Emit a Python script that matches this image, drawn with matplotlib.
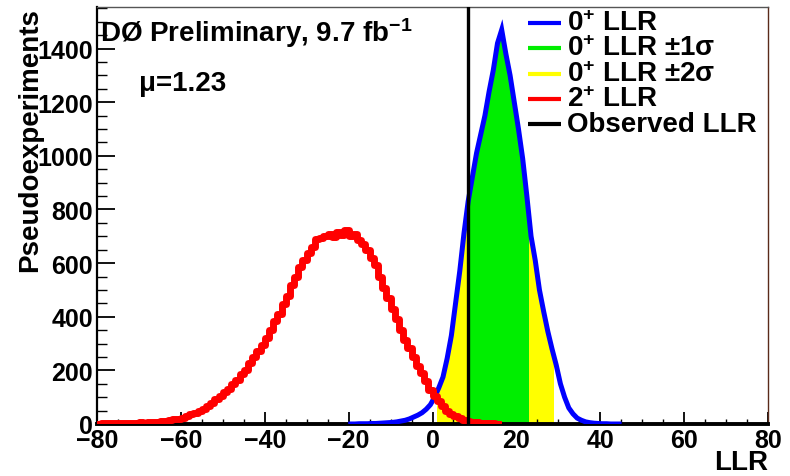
import numpy as np
import matplotlib
matplotlib.use('Agg')
import matplotlib.pyplot as plt

plt.rcParams['font.family'] = ['Liberation Sans', 'DejaVu Sans']
plt.rcParams['font.weight'] = 'bold'
plt.rcParams['mathtext.fontset'] = 'custom'
plt.rcParams['mathtext.rm'] = 'Liberation Sans:bold'
plt.rcParams['mathtext.bf'] = 'Liberation Sans:bold'
plt.rcParams['mathtext.it'] = 'Liberation Sans:bold:italic'

# 0+ LLR pseudoexperiments, 1-unit bins starting at -20
blue_edges = np.arange(-20, 46)
blue = [0, 0, 1, 1, 1, 2, 2, 3, 4, 5,
        6, 8, 11, 14, 19, 26, 33, 42, 55, 72,
        100, 135, 175, 245, 330, 450, 570, 710, 830, 920,
        1010, 1080, 1150, 1240, 1320, 1420, 1470, 1380, 1300, 1200,
        1100, 990, 850, 700, 610, 500, 420, 345, 280, 220,
        150, 100, 60, 38, 22, 14, 8, 5, 3, 2,
        1, 1, 0, 0, 0]

# 2+ LLR pseudoexperiments, 1-unit bins starting at -80
red_edges = np.arange(-80, 17)
red = [1, 2, 2, 3, 2, 3, 4, 3, 5, 4,
       6, 5, 7, 8, 9, 10, 12, 14, 17, 20,
       24, 29, 36, 41, 50, 57, 68, 80, 92, 104,
       120, 132, 148, 165, 186, 202, 228, 248, 272, 296,
       322, 350, 385, 410, 448, 478, 520, 548, 585, 610,
       638, 660, 690, 695, 702, 710, 698, 716, 705, 722,
       700, 710, 688, 670, 648, 620, 592, 548, 508, 470,
       428, 390, 350, 315, 282, 250, 218, 190, 160, 128,
       104, 84, 66, 50, 37, 28, 21, 15, 11, 8,
       6, 4, 3, 2, 2, 1]

observed = 8.5
band_1sigma = (9, 23)
band_2sigma = (1, 29)

legend_labels = ['0$^{+}$ LLR', '0$^{+}$ LLR ±1σ', '0$^{+}$ LLR ±2σ',
                 '2$^{+}$ LLR', 'Observed LLR']
legend_colors = ['#0000ff', '#00ee00', '#ffff00', '#ff0000', 'black']

blue = np.array(blue)
red = np.array(red)
blue_x = (blue_edges[:-1] + blue_edges[1:]) / 2
red_x = (red_edges[:-1] + red_edges[1:]) / 2

fig = plt.figure(figsize=(7.9, 4.77), dpi=100)
ax = fig.add_axes([97/790, 1-425/477, 671/790, 417/477])

i0, i1 = np.searchsorted(blue_edges, band_2sigma)
ax.stairs(blue[i0:i1], blue_edges[i0:i1+1], fill=True, color='#ffff00', zorder=1)
i0, i1 = np.searchsorted(blue_edges, band_1sigma)
ax.stairs(blue[i0:i1], blue_edges[i0:i1+1], fill=True, color='#00ee00', zorder=2)
ax.plot(blue_x, blue, color='#0000ff', linewidth=3.6, solid_joinstyle='miter', zorder=3)
ax.plot(red_x, red, color='#ff0000', linewidth=5, drawstyle='steps-mid', zorder=4)
ax.plot([-80, red_x[0]], [0, 0], color='#ff0000', linewidth=3, zorder=4)
ax.axvline(observed, color='black', linewidth=2.4, zorder=5)

ax.set_xlim(-80, 80)
ax.set_ylim(0, 1555)
ax.set_xticks(np.arange(-80, 81, 20))
ax.set_xticks(np.arange(-80, 81, 5), minor=True)
ax.set_yticks(np.arange(0, 1401, 200))
ax.set_yticks(np.arange(0, 1551, 50), minor=True)
ax.tick_params(axis='x', which='major', direction='in', length=8.6, width=1.3, labelsize=18, pad=3)
ax.tick_params(axis='x', which='minor', direction='in', length=3.6, width=1.0)
ax.tick_params(axis='y', which='major', direction='in', length=13, width=1.3, labelsize=18, pad=3)
ax.tick_params(axis='y', which='minor', direction='in', length=7, width=1.0)

ax.spines['left'].set_linewidth(1.6)
ax.spines['bottom'].set_linewidth(2.8)
ax.spines['top'].set_linewidth(1.0)
ax.spines['top'].set_color('#555555')
ax.spines['right'].set_linewidth(1.0)
ax.spines['right'].set_color('#5a2a1a')

ax.text(1.0, -0.092, 'LLR', transform=ax.transAxes, ha='right', va='center', fontsize=20)
ax.text(-0.1, 1.0, 'Pseudoexperiments', transform=ax.transAxes, ha='center', va='top',
        rotation=90, fontsize=20)

ax.text(0.005, 0.94, 'DØ Preliminary, 9.7 fb$^{-1}$', transform=ax.transAxes,
        ha='left', va='center', fontsize=20)
ax.text(0.062, 0.818, 'μ=1.23', transform=ax.transAxes, ha='left', va='center', fontsize=20)

for i, (label, color) in enumerate(zip(legend_labels, legend_colors)):
    y = 0.9616 - i*0.0607
    ax.plot([0.642, 0.692], [y, y], color=color, linewidth=3, transform=ax.transAxes,
            solid_capstyle='butt', zorder=6)
    ax.text(0.701, y, label, transform=ax.transAxes, ha='left', va='center', fontsize=20, zorder=6)

fig.savefig('out.png', dpi=100)
